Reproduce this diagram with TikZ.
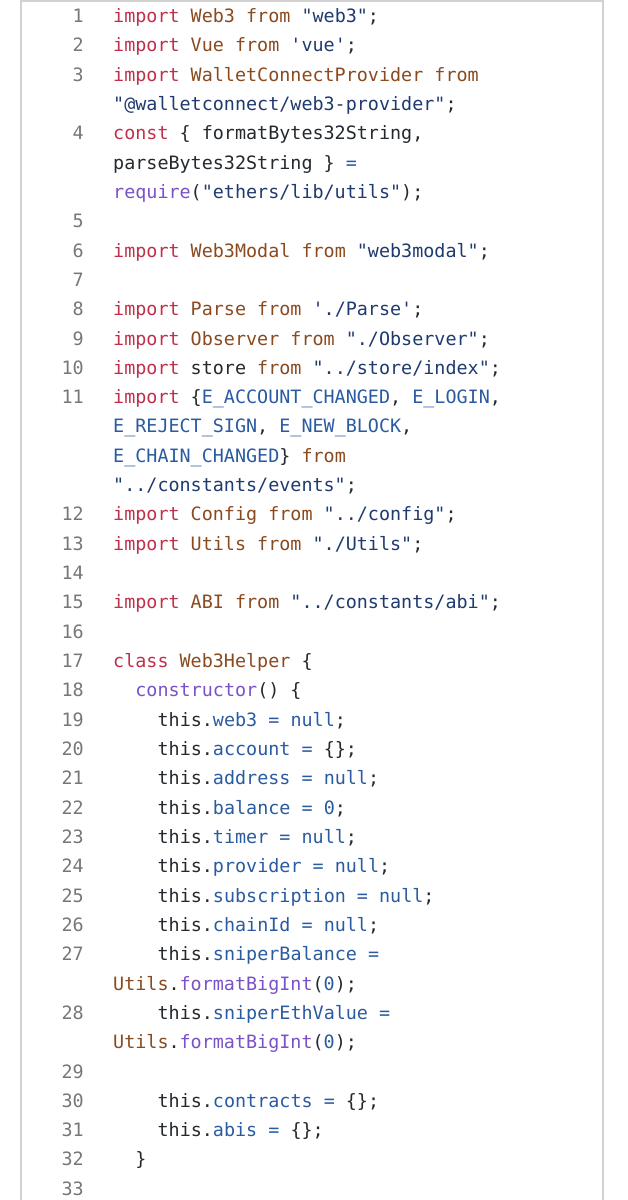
\documentclass[tikz,border=0pt]{standalone}
\usepackage{fontspec}
\setmonofont{DejaVu Sans Mono}
\setmainfont{DejaVu Sans}
\definecolor{kw}{HTML}{C0304A}
\definecolor{idc}{HTML}{8A4A1F}
\definecolor{stc}{HTML}{1F3A6E}
\definecolor{prc}{HTML}{2A5BA0}
\definecolor{fnc}{HTML}{7A52C8}
\definecolor{txc}{HTML}{24292E}
\definecolor{lnc}{HTML}{777777}
\newcommand\K[1]{\textcolor{kw}{#1}}
\newcommand\I[1]{\textcolor{idc}{#1}}
\newcommand\St[1]{\textcolor{stc}{#1}}
\newcommand\Pp[1]{\textcolor{prc}{#1}}
\newcommand\F[1]{\textcolor{fnc}{#1}}
\begin{document}
\begin{tikzpicture}[x=1pt,y=-1pt,
  code/.style={anchor=base west,inner sep=0,font=\ttfamily\fontsize{18.4}{20}\selectfont,text=txc},
  lno/.style={anchor=base east,inner sep=0,font=\ttfamily\fontsize{18.4}{20}\selectfont,text=lnc}]
\useasboundingbox (0,0) rectangle (628,1200);
\draw[color=black!18,line width=1.2] (21,1200) -- (21,1) -- (603,1) -- (603,1200);
\newcommand\R[4]{% row, number, indent, text
  \node[lno] (n#1) at (84,{22.5+29.32*(#1)}) {#2};
  \node[code] (c#1) at ({113+11.1*(#3)},{22.5+29.32*(#1)}) {#4};}
\R{0}{1}{0}{\K{import} \I{Web3} \I{from} \St{"web3"};}
\R{1}{2}{0}{\K{import} \I{Vue} \I{from} \St{'vue'};}
\R{2}{3}{0}{\K{import} \I{WalletConnectProvider} \I{from}}
\R{3}{}{0}{\St{"@walletconnect/web3-provider"};}
\R{4}{4}{0}{\K{const} \{ formatBytes32String,}
\R{5}{}{0}{parseBytes32String \} \Pp{=}}
\R{6}{}{0}{\F{require}(\St{"ethers/lib/utils"});}
\R{7}{5}{0}{}
\R{8}{6}{0}{\K{import} \I{Web3Modal} \I{from} \St{"web3modal"};}
\R{9}{7}{0}{}
\R{10}{8}{0}{\K{import} \I{Parse} \I{from} \St{'./Parse'};}
\R{11}{9}{0}{\K{import} \I{Observer} \I{from} \St{"./Observer"};}
\R{12}{10}{0}{\K{import} store \I{from} \St{"../store/index"};}
\R{13}{11}{0}{\K{import} \{\Pp{E\_ACCOUNT\_CHANGED}, \Pp{E\_LOGIN},}
\R{14}{}{0}{\Pp{E\_REJECT\_SIGN}, \Pp{E\_NEW\_BLOCK},}
\R{15}{}{0}{\Pp{E\_CHAIN\_CHANGED}\} \I{from}}
\R{16}{}{0}{\St{"../constants/events"};}
\R{17}{12}{0}{\K{import} \I{Config} \I{from} \St{"../config"};}
\R{18}{13}{0}{\K{import} \I{Utils} \I{from} \St{"./Utils"};}
\R{19}{14}{0}{}
\R{20}{15}{0}{\K{import} \I{ABI} \I{from} \St{"../constants/abi"};}
\R{21}{16}{0}{}
\R{22}{17}{0}{\K{class} \I{Web3Helper} \{}
\R{23}{18}{2}{\F{constructor}() \{}
\R{24}{19}{4}{this.\Pp{web3} \Pp{=} \Pp{null};}
\R{25}{20}{4}{this.\Pp{account} \Pp{=} \{\};}
\R{26}{21}{4}{this.\Pp{address} \Pp{=} \Pp{null};}
\R{27}{22}{4}{this.\Pp{balance} \Pp{=} \Pp{0};}
\R{28}{23}{4}{this.\Pp{timer} \Pp{=} \Pp{null};}
\R{29}{24}{4}{this.\Pp{provider} \Pp{=} \Pp{null};}
\R{30}{25}{4}{this.\Pp{subscription} \Pp{=} \Pp{null};}
\R{31}{26}{4}{this.\Pp{chainId} \Pp{=} \Pp{null};}
\R{32}{27}{4}{this.\Pp{sniperBalance} \Pp{=}}
\R{33}{}{0}{\I{Utils}.\F{formatBigInt}(\Pp{0});}
\R{34}{28}{4}{this.\Pp{sniperEthValue} \Pp{=}}
\R{35}{}{0}{\I{Utils}.\F{formatBigInt}(\Pp{0});}
\R{36}{29}{0}{}
\R{37}{30}{4}{this.\Pp{contracts} \Pp{=} \{\};}
\R{38}{31}{4}{this.\Pp{abis} \Pp{=} \{\};}
\R{39}{32}{2}{\}}
\R{40}{33}{0}{}
\end{tikzpicture}
\end{document}
